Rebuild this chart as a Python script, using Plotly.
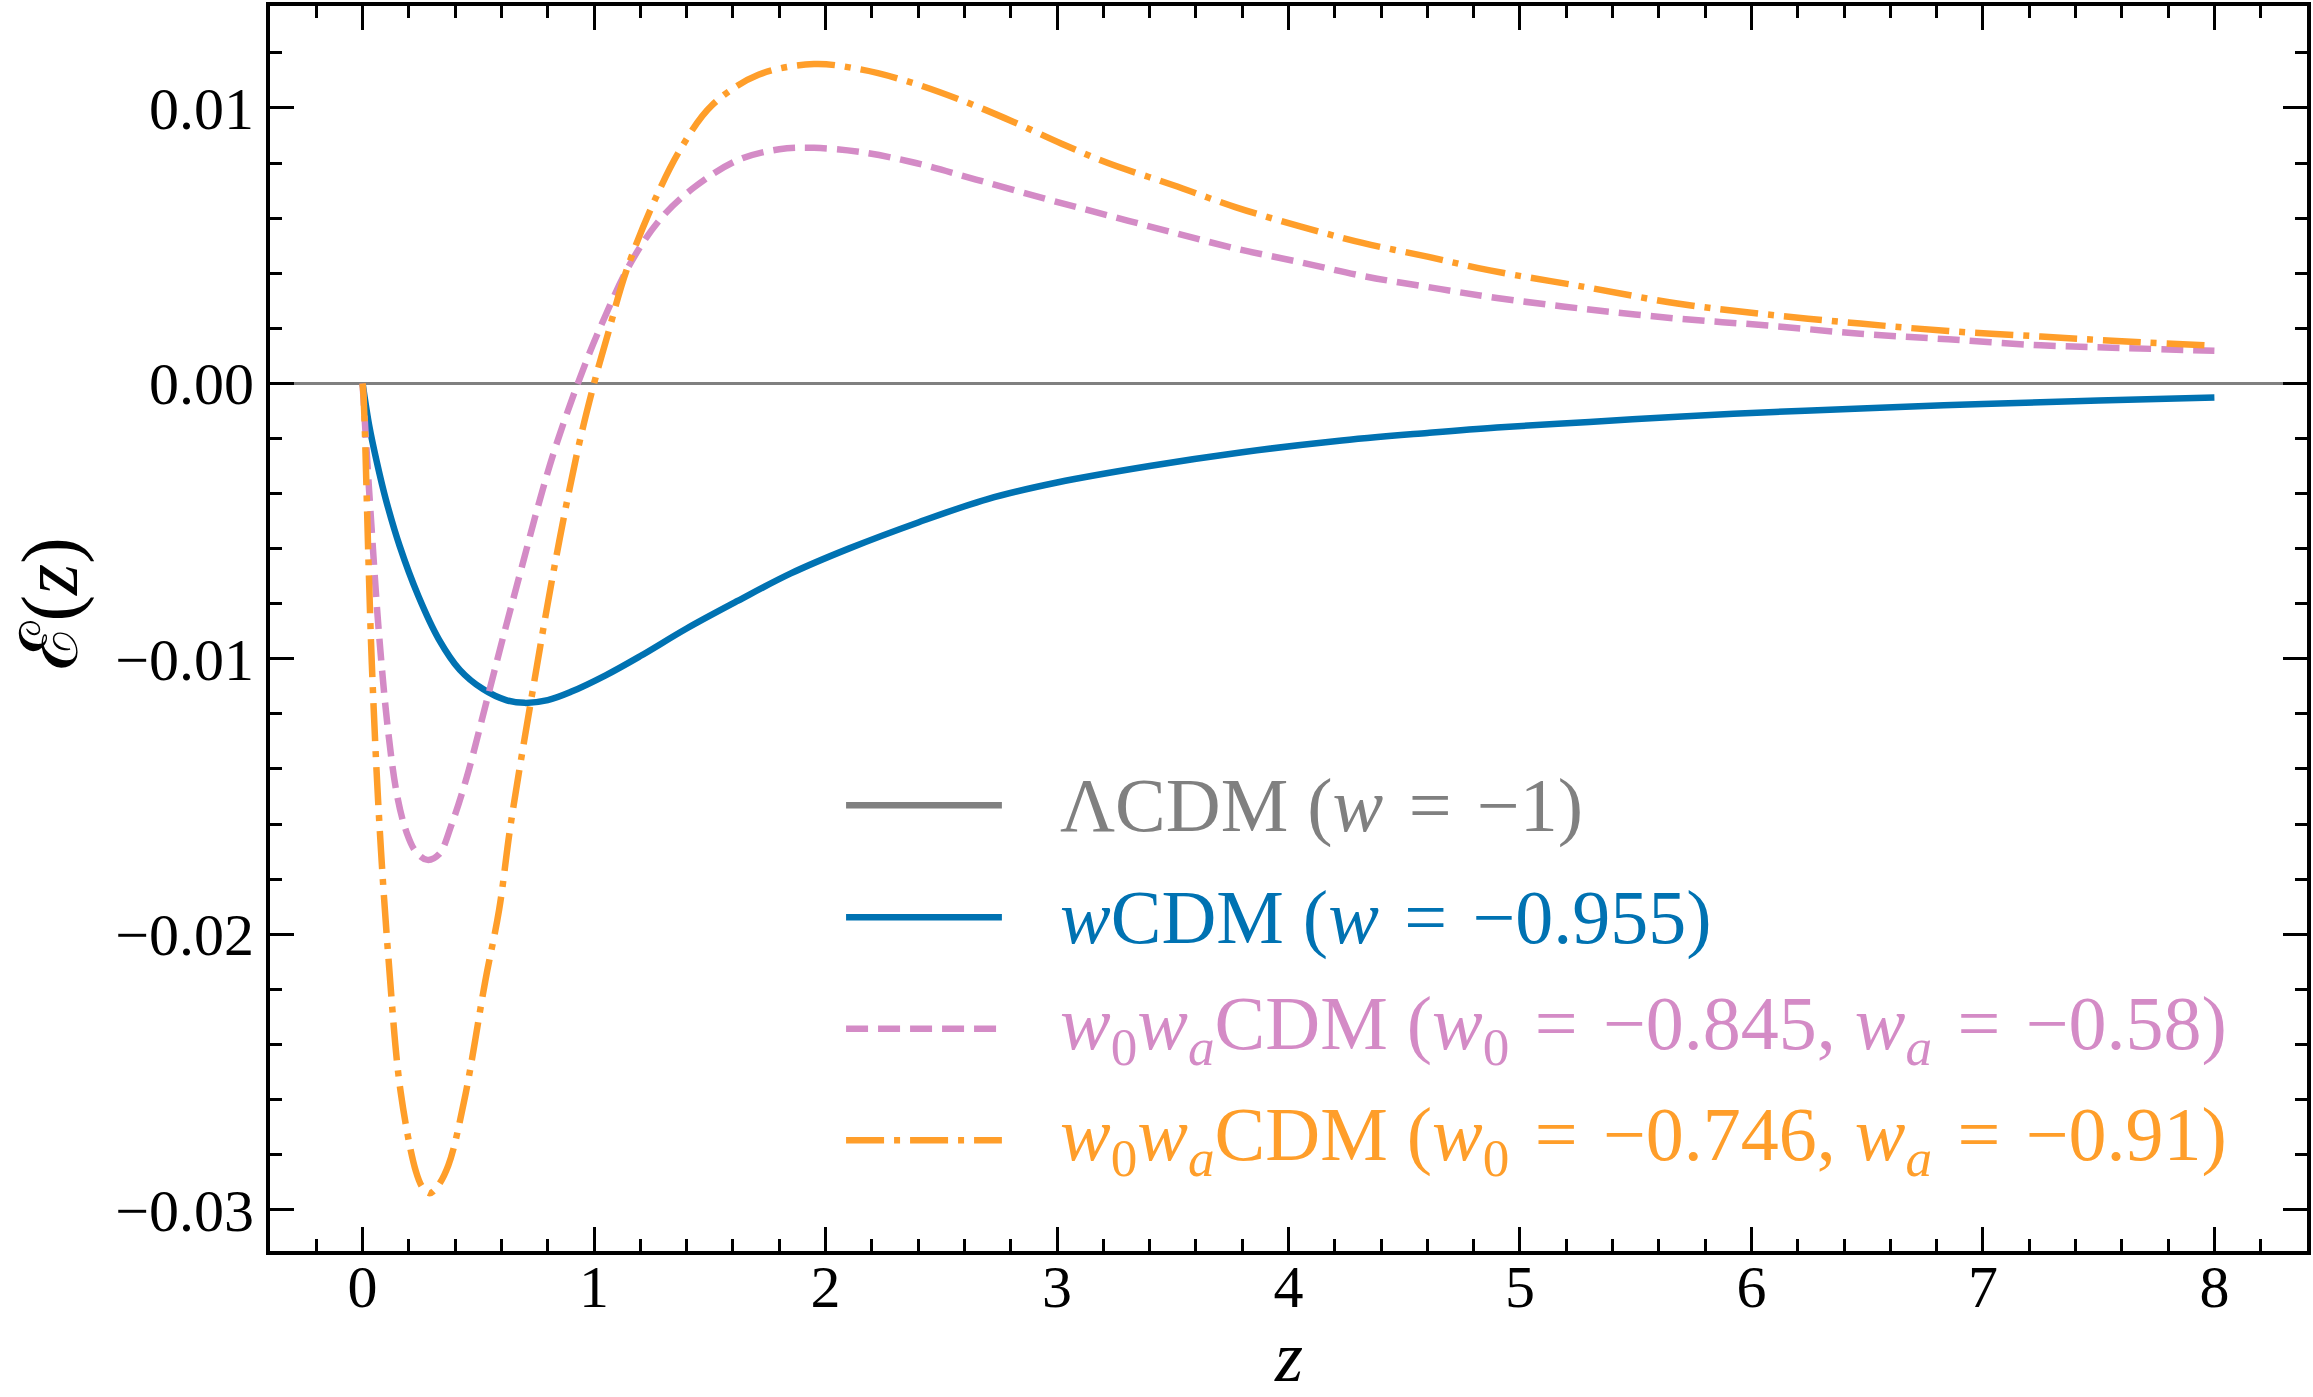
import plotly.graph_objects as go

# ---------------- data ----------------
z_wcdm = [0, 0.03, 0.06, 0.10, 0.16, 0.24, 0.33, 0.42, 0.52, 0.62, 0.70, 0.80, 0.90,
          1.05, 1.20, 1.40, 1.62, 1.85, 2.10, 2.40, 2.70, 3.00, 3.40, 3.80, 4.20,
          4.60, 4.90, 5.30, 5.70, 6.10, 6.50, 7.00, 7.50, 8.00]
e_wcdm = [0, -0.0016, -0.0028, -0.0042, -0.0059, -0.0077, -0.0093, -0.0104, -0.0111,
          -0.0115, -0.0116, -0.0115, -0.0112, -0.0106, -0.0099, -0.0089, -0.0079,
          -0.0069, -0.0060, -0.00505, -0.0042, -0.0036, -0.0030, -0.0025, -0.0021,
          -0.0018, -0.0016, -0.0014, -0.00120, -0.00104, -0.00090, -0.00075,
          -0.00062, -0.00051]

z_w0wa1 = [0, 0.02, 0.04, 0.07, 0.11, 0.15, 0.19, 0.23, 0.28, 0.33, 0.385, 0.45,
           0.54, 0.62, 0.69, 0.76, 0.83, 0.93, 1.02, 1.16, 1.29, 1.43, 1.62, 1.80,
           1.95, 2.15, 2.39, 2.65, 2.95, 3.22, 3.49, 3.77, 4.05, 4.32, 4.60, 4.90,
           5.28, 5.68, 6.07, 6.47, 6.85, 7.25, 7.62, 8.00]
e_w0wa1 = [0, -0.0028, -0.0054, -0.0090, -0.0126, -0.0150, -0.0163, -0.0170, -0.0173,
           -0.0171, -0.0160, -0.0143, -0.0114, -0.0088, -0.0066, -0.0044, -0.0024,
           0.0000, 0.0019, 0.0044, 0.0060, 0.0071, 0.0081, 0.0085, 0.00855, 0.0084,
           0.0080, 0.0074, 0.0067, 0.0061, 0.0055, 0.0049, 0.0044, 0.0039, 0.0035,
           0.0031, 0.0027, 0.00235, 0.0021, 0.0018, 0.0016, 0.00138, 0.00128,
           0.00118]

z_w0wa2 = [0, 0.005, 0.026, 0.04, 0.07, 0.112, 0.164, 0.23, 0.26, 0.29, 0.32, 0.37,
           0.44, 0.53, 0.59, 0.64, 0.73, 0.83, 0.93, 1.00, 1.06, 1.14, 1.27, 1.38,
           1.51, 1.71, 1.95, 2.15, 2.34, 2.58, 2.81, 3.02, 3.22, 3.50, 3.77, 4.05,
           4.32, 4.60, 4.87, 5.28, 5.68, 6.07, 6.47, 6.85, 7.25, 7.62, 8.00]
e_w0wa2 = [0, -0.0006, -0.0066, -0.0102, -0.0156, -0.0209, -0.0257, -0.0286, -0.0292,
           -0.0294, -0.0292, -0.0284, -0.0260, -0.0217, -0.0191, -0.0160, -0.0114,
           -0.0066, -0.0024, 0.0000, 0.0018, 0.0041, 0.0068, 0.0086, 0.0101, 0.0112,
           0.01159, 0.0114, 0.0110, 0.0103, 0.0095, 0.0087, 0.0080, 0.0072, 0.0064,
           0.0057, 0.0051, 0.0046, 0.0041, 0.0035, 0.0029, 0.0025, 0.00217, 0.0019,
           0.0017, 0.00152, 0.00137]

x_ticks = [0, 1, 2, 3, 4, 5, 6, 7, 8]
y_ticks = [-0.03, -0.02, -0.01, 0.00, 0.01]

EQ = "\u2004=\u2004"
labels = [
    f"ΛCDM (<i>w</i>{EQ}−1)",
    f"<i>w</i>CDM (<i>w</i>{EQ}−0.955)",
    f"<i>w</i><sub>0</sub><i>w</i><sub><i>a</i></sub>CDM (<i>w</i><sub>0</sub>{EQ}−0.845, <i>w</i><sub><i>a</i></sub>{EQ}−0.58)",
    f"<i>w</i><sub>0</sub><i>w</i><sub><i>a</i></sub>CDM (<i>w</i><sub>0</sub>{EQ}−0.746, <i>w</i><sub><i>a</i></sub>{EQ}−0.91)",
]
colors = ["#808080", "#0072B2", "#D48BC6", "#FF9E2A"]
dashes = ["solid", "solid", "22px,10px", "38px,10px,6px,10px"]
widths = [3, 6.5, 6.5, 6.5]

FONT = "Liberation Serif, DejaVu Serif, serif"

fig = go.Figure()
series = [(z_wcdm, e_wcdm, 1), (z_w0wa1, e_w0wa1, 2), (z_w0wa2, e_w0wa2, 3)]
for zs, es, k in series:
    fig.add_trace(go.Scatter(
        x=zs, y=es, mode="lines", showlegend=False,
        line=dict(color=colors[k], width=widths[k], dash=dashes[k],
                  shape="spline", smoothing=1.0)))

axis_common = dict(
    showgrid=False, showline=True, linecolor="black", linewidth=4,
    mirror="allticks", ticks="inside", ticklen=24, tickwidth=3,
    tickcolor="black",
    tickfont=dict(family=FONT, size=60, color="black"),
)

fig.update_xaxes(
    range=[-0.4, 8.4], tickvals=x_ticks, zeroline=False,
    ticklabelstandoff=-20,
    minor=dict(dtick=0.2, ticks="inside", ticklen=12, tickwidth=2.5,
               tickcolor="black", showgrid=False),
    **axis_common)
fig.update_yaxes(
    range=[-0.0315, 0.0137], tickvals=y_ticks, tickformat=".2f",
    zeroline=True, zerolinecolor=colors[0], zerolinewidth=3,
    ticklabelstandoff=0,
    minor=dict(dtick=0.002, ticks="inside", ticklen=12, tickwidth=2.5,
               tickcolor="black", showgrid=False),
    **axis_common)

# legend drawn in paper coordinates
row_y = [0.358, 0.268, 0.1785, 0.089]
shapes = []
annotations = []
for i in range(4):
    shapes.append(dict(type="line", xref="paper", yref="paper",
                       x0=0.2828, x1=0.3593, y0=row_y[i], y1=row_y[i],
                       line=dict(color=colors[i], width=6.5, dash=dashes[i])))
    annotations.append(dict(xref="paper", yref="paper", x=0.3868, y=row_y[i],
                            xanchor="left", yanchor="middle", showarrow=False,
                            text=labels[i],
                            font=dict(family=FONT, size=76, color=colors[i])))

# axis titles
annotations.append(dict(xref="paper", yref="paper", x=0.5, y=-0.085,
                        xanchor="center", yanchor="middle", showarrow=False,
                        text="<i>z</i>",
                        font=dict(family=FONT, size=72, color="black")))
annotations.append(dict(xref="paper", yref="paper", x=-0.108, y=0.52,
                        xanchor="center", yanchor="middle", showarrow=False,
                        textangle=-90,
                        text='<span style="font-family:DejaVu Serif">ℰ</span>(<i>z</i>)',
                        font=dict(family=FONT, size=80, color="black")))

fig.update_layout(
    width=2313, height=1397,
    margin=dict(l=270, r=3, t=2, b=146, pad=0),
    paper_bgcolor="white", plot_bgcolor="white",
    shapes=shapes, annotations=annotations, showlegend=False,
)

fig.write_html("out.html")
